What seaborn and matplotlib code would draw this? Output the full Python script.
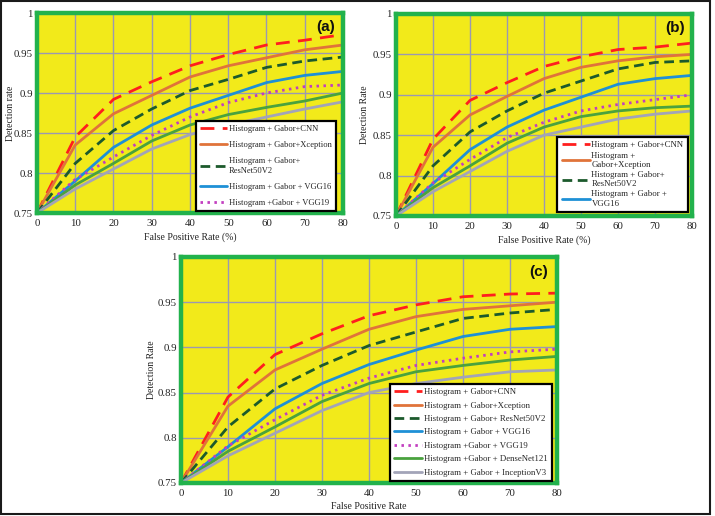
import matplotlib
matplotlib.use("Agg")
import matplotlib.pyplot as plt
import seaborn as sns
import numpy as np
from matplotlib.patches import Rectangle
from matplotlib.lines import Line2D

sns.set_theme(style="white")
plt.rcParams['font.family'] = ['Liberation Serif', 'DejaVu Serif']

fpr = [0, 10, 20, 30, 40, 50, 60, 70, 80]

names = ["Histogram + Gabor+CNN", "Histogram + Gabor+Xception",
         "Histogram + Gabor+ ResNet50V2", "Histogram + Gabor + VGG16",
         "Histogram +Gabor + VGG19", "Histogram +Gabor + DenseNet121",
         "Histogram + Gabor + InceptionV3"]

# panel (a)
a_cnn = [0.75, 0.845, 0.892, 0.914, 0.934, 0.948, 0.960, 0.966, 0.973]
a_xce = [0.75, 0.835, 0.874, 0.897, 0.920, 0.934, 0.944, 0.954, 0.960]
a_res = [0.75, 0.812, 0.853, 0.880, 0.903, 0.917, 0.932, 0.940, 0.945]
a_v16 = [0.75, 0.790, 0.832, 0.860, 0.881, 0.897, 0.913, 0.922, 0.927]
a_v19 = [0.75, 0.792, 0.820, 0.847, 0.870, 0.888, 0.900, 0.908, 0.910]
a_den = [0.75, 0.785, 0.812, 0.840, 0.860, 0.873, 0.882, 0.890, 0.900]
a_inc = [0.75, 0.780, 0.805, 0.830, 0.848, 0.860, 0.870, 0.880, 0.889]

# panel (b)
b_cnn = [0.75, 0.845, 0.893, 0.915, 0.935, 0.947, 0.956, 0.959, 0.964]
b_xce = [0.75, 0.835, 0.875, 0.898, 0.920, 0.934, 0.942, 0.947, 0.950]
b_res = [0.75, 0.812, 0.854, 0.880, 0.902, 0.917, 0.932, 0.940, 0.942]
b_v16 = [0.75, 0.790, 0.832, 0.860, 0.881, 0.897, 0.913, 0.920, 0.924]
b_v19 = [0.75, 0.791, 0.820, 0.847, 0.866, 0.880, 0.888, 0.894, 0.900]
b_den = [0.75, 0.785, 0.812, 0.840, 0.860, 0.873, 0.880, 0.884, 0.886]
b_inc = [0.75, 0.780, 0.805, 0.830, 0.850, 0.860, 0.870, 0.876, 0.880]

# panel (c)
c_cnn = [0.75, 0.845, 0.892, 0.915, 0.935, 0.947, 0.956, 0.959, 0.960]
c_xce = [0.75, 0.835, 0.875, 0.898, 0.920, 0.934, 0.942, 0.946, 0.950]
c_res = [0.75, 0.812, 0.854, 0.880, 0.902, 0.917, 0.932, 0.938, 0.942]
c_v16 = [0.75, 0.790, 0.832, 0.860, 0.881, 0.897, 0.912, 0.920, 0.923]
c_v19 = [0.75, 0.791, 0.820, 0.847, 0.866, 0.880, 0.888, 0.895, 0.898]
c_den = [0.75, 0.785, 0.812, 0.840, 0.860, 0.873, 0.880, 0.886, 0.890]
c_inc = [0.75, 0.780, 0.805, 0.830, 0.850, 0.860, 0.867, 0.873, 0.875]

yticks = [0.75, 0.8, 0.85, 0.9, 0.95, 1.0]
ytick_labels = ["0.75", "0.8", "0.85", "0.9", "0.95", "1"]
xticks = [0, 10, 20, 30, 40, 50, 60, 70, 80]

colors = ["#FF1E1E", "#E0733A", "#1C5A2C", "#1E90D6", "#C23EC0", "#4AA23E", "#A2A4B8"]
styles = [(0, (5, 3)), "-", (0, (3.5, 2)), "-", (0, (0.9, 1.6)), "-", "-"]
widths = [2.0, 2.0, 2.0, 2.0, 2.0, 2.0, 2.0]

YELLOW = "#F2EA1A"
GREEN = "#22B24C"
GRID = "#9B99B2"

fig = plt.figure(figsize=(7.15, 5.16), dpi=100)
fig.patches.append(Rectangle((0.0014, 0.003), 0.9916, 0.995, transform=fig.transFigure,
                             fill=False, edgecolor="#1A1A1A", linewidth=1.5, zorder=10))

panels = [
    dict(rect=[0.0517, 0.5872, 0.428, 0.3876], series=[a_cnn, a_xce, a_res, a_v16, a_v19, a_den, a_inc],
         tag="(a)", xlabel="False Positive Rate (%)", ylabel="Detection rate", ylab_x=-0.071,
         leg_idx=[0, 1, 2, 3, 4],
         leg_labels=["Histogram + Gabor+CNN", "Histogram + Gabor+Xception",
                     "Histogram + Gabor+\nResNet50V2", "Histogram + Gabor + VGG16",
                     "Histogram +Gabor + VGG19"],
         leg_anchor=(0.977, 0.01), leg_size=6.1, leg_space=0.95),
    dict(rect=[0.5538, 0.5814, 0.414, 0.3915], series=[b_cnn, b_xce, b_res, b_v16, b_v19, b_den, b_inc],
         tag="(b)", xlabel="False Positive Rate (%)", ylabel="Detection Rate", ylab_x=-0.091,
         leg_idx=[0, 1, 2, 3],
         leg_labels=["Histogram + Gabor+CNN", "Histogram +\nGabor+Xception",
                     "Histogram + Gabor+\nResNet50V2", "Histogram + Gabor +\nVGG16"],
         leg_anchor=(0.986, 0.02), leg_size=6.3, leg_space=0.25),
    dict(rect=[0.2531, 0.0640, 0.5259, 0.438], series=[c_cnn, c_xce, c_res, c_v16, c_v19, c_den, c_inc],
         tag="(c)", xlabel="False Positive Rate", ylabel="Detection Rate", ylab_x=-0.066,
         leg_idx=[0, 1, 2, 3, 4, 5, 6],
         leg_labels=names, leg_anchor=(0.987, 0.009), leg_size=6.3, leg_space=0.6),
]

for p in panels:
    ax = fig.add_axes(p["rect"])
    ax.set_facecolor(YELLOW)
    handles = []
    for i, ys in enumerate(p["series"]):
        sns.lineplot(x=fpr, y=ys, ax=ax, color=colors[i], linestyle=styles[i],
                     linewidth=widths[i], zorder=3)
        handles.append(Line2D([], [], color=colors[i], linestyle=styles[i], linewidth=2.0))
    ax.set_xlim(0, 80)
    ax.set_ylim(0.75, 1.0)
    ax.set_xticks(xticks)
    ax.set_xticklabels([str(v) for v in xticks])
    ax.set_yticks(yticks)
    ax.set_yticklabels(ytick_labels)
    ax.grid(True, color=GRID, linewidth=1.0, zorder=1)
    ax.set_axisbelow(True)
    for s in ax.spines.values():
        s.set_color(GREEN)
        s.set_linewidth(3.2)
        s.set_zorder(5)
    ax.tick_params(axis="both", labelsize=7.8, length=1.5, width=0.6, pad=1.5,
                   labelcolor="#222222", color="#999999")
    ax.tick_params(axis="x", pad=3)
    ax.set_xlabel(p["xlabel"], fontsize=7, color="#222222", labelpad=3)
    ax.set_ylabel(p["ylabel"], fontsize=7, color="#222222")
    ax.yaxis.set_label_coords(p["ylab_x"], 0.5)
    ax.text(0.975, 0.965, p["tag"], transform=ax.transAxes, ha="right", va="top",
            fontsize=11, fontweight="bold", family=["Liberation Sans", "DejaVu Sans"], color="#111111",
            zorder=6)
    leg = ax.legend([handles[i] for i in p["leg_idx"]], p["leg_labels"], loc="lower right",
                    bbox_to_anchor=p["leg_anchor"], fontsize=p["leg_size"], frameon=True,
                    fancybox=False, framealpha=1, edgecolor="#000000", handlelength=3.2,
                    handletextpad=0.2, labelspacing=p["leg_space"], borderpad=0.5,
                    borderaxespad=0.0)
    leg.get_frame().set_linewidth(1.6)
    leg.set_zorder(7)

fig.savefig("out.png", dpi=100, facecolor="white")
